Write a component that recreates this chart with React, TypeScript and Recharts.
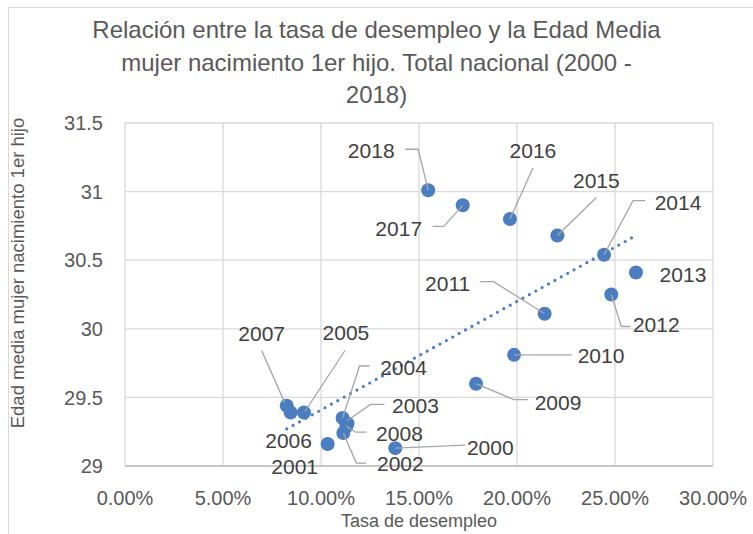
import React from 'react';
import {
  ScatterChart,
  Scatter,
  XAxis,
  YAxis,
  CartesianGrid,
  ReferenceLine,
} from 'recharts';

// Tasa de desempleo vs. edad media de la mujer al nacimiento del 1er hijo
const years = [
  2000, 2001, 2002, 2003, 2004, 2005, 2006, 2007, 2008, 2009,
  2010, 2011, 2012, 2013, 2014, 2015, 2016, 2017, 2018,
];
const unemployment = [
  0.1379, 0.1034, 0.1114, 0.1135, 0.111, 0.0913, 0.0845, 0.0825, 0.113, 0.1791,
  0.1985, 0.2141, 0.2481, 0.2607, 0.2444, 0.2206, 0.1964, 0.1723, 0.1547,
];
const ageFirstChild = [
  29.13, 29.16, 29.24, 29.31, 29.35, 29.39, 29.39, 29.44, 29.29, 29.6,
  29.81, 30.11, 30.25, 30.41, 30.54, 30.68, 30.8, 30.9, 31.01,
];

// linear trend, end points
const trendX = [0.0825, 0.2607];
const trendY = [29.27, 30.68];

const xTicks = [0, 0.05, 0.1, 0.15, 0.2, 0.25, 0.3];
const yTicks = [29, 29.5, 30, 30.5, 31, 31.5];

const titleLines = [
  'Relación entre la tasa de desempleo y la Edad Media',
  'mujer nacimiento 1er hijo. Total nacional (2000 -',
  '2018)',
];

const FONT = '"Liberation Sans", Arial, sans-serif';
const BLUE = '#4A7EC0';

// label placement (pixels relative to the point): text centre + leader line
const LABELS: Record<number, { dx: number; dy: number; leader?: number[][] }> = {
  2000: { dx: 95, dy: -1, leader: [[70, -3], [0, 0]] },
  2001: { dx: -33, dy: 22 },
  2002: { dx: 57, dy: 30, leader: [[23, 30], [13, 30], [0, 0]] },
  2003: { dx: 68, dy: -18, leader: [[37, -19], [23, -19], [0, -3]] },
  2004: { dx: 61, dy: -50, leader: [[27, -52], [17, -52], [0, 0]] },
  2005: { dx: 42, dy: -80, leader: [[41, -62], [1, -1]] },
  2006: { dx: -2, dy: 28 },
  2007: { dx: -25, dy: -72, leader: [[-25, -55], [-2, -3]] },
  2008: { dx: 53, dy: 7, leader: [[20, 6], [9, 6], [0, 0]] },
  2009: { dx: 82, dy: 19, leader: [[0, 0], [38, 16], [52, 16]] },
  2010: { dx: 87, dy: 1, leader: [[0, 0], [58, 0]] },
  2011: { dx: -97, dy: -30, leader: [[-65, -32], [-51, -32], [0, 0]] },
  2012: { dx: 45, dy: 30, leader: [[19, 32], [10, 32], [0, 0]] },
  2013: { dx: 47, dy: 2 },
  2014: { dx: 74, dy: -52, leader: [[41, -54], [29, -54], [0, 0]] },
  2015: { dx: 39, dy: -55, leader: [[39, -38], [0, 0]] },
  2016: { dx: 23, dy: -69, leader: [[23, -51], [0, 0]] },
  2017: { dx: -64, dy: 23, leader: [[-30, 21], [-19, 21], [0, 0]] },
  2018: { dx: -57, dy: -40, leader: [[-23, -41], [-10, -41], [0, 0]] },
};

const data = years.map((year, i) => ({
  year,
  x: unemployment[i],
  y: ageFirstChild[i],
}));

const Dot = (props: any) => {
  const { cx, cy } = props;
  return <circle cx={cx} cy={cy} r={7} fill={BLUE} />;
};

const YearLabel = (props: any) => {
  const { cx, cy, payload } = props;
  const cfg = LABELS[payload.year];
  if (!cfg) return <g />;
  return (
    <g>
      {cfg.leader && (
        <polyline
          points={cfg.leader.map(([dx, dy]) => `${cx + dx},${cy + dy}`).join(' ')}
          fill="none"
          stroke="#a6a6a6"
          strokeWidth={1.3}
        />
      )}
      <text
        x={cx + cfg.dx}
        y={cy + cfg.dy}
        textAnchor="middle"
        dominantBaseline="central"
        fontFamily={FONT}
        fontSize={21}
        fill="#404040"
      >
        {payload.year}
      </text>
    </g>
  );
};

const pct = (v: number) => `${(v * 100).toFixed(2)}%`;

export default function App() {
  return (
    <div
      style={{
        position: 'absolute',
        left: 0,
        top: 0,
        width: 753,
        height: 534,
        background: '#fff',
        fontFamily: FONT,
      }}
    >
      <div
        style={{
          position: 'absolute',
          left: 8,
          top: 7,
          right: 0,
          bottom: 0,
          borderLeft: '1px solid #d9d9d9',
          borderTop: '1px solid #d9d9d9',
        }}
      />
      {titleLines.map((line, i) => (
        <div
          key={i}
          style={{
            position: 'absolute',
            left: 0,
            width: 753,
            top: 15 + i * 32.5,
            textAlign: 'center',
            fontSize: 24,
            lineHeight: '30px',
            color: '#595959',
            whiteSpace: 'nowrap',
          }}
        >
          {line}
        </div>
      ))}
      <ScatterChart
        width={753}
        height={534}
        margin={{ top: 123, right: 40, bottom: 38, left: 65 }}
        style={{ position: 'absolute', left: 0, top: 0 }}
      >
        <CartesianGrid stroke="#d9d9d9" strokeWidth={1.3} />
        <XAxis
          type="number"
          dataKey="x"
          domain={[0, 0.3]}
          ticks={xTicks}
          tickFormatter={pct}
          tickLine={false}
          tickSize={0}
          tickMargin={25}
          height={30}
          axisLine={{ stroke: '#bfbfbf', strokeWidth: 1.3 }}
          tick={{ fill: '#595959', fontSize: 20, fontFamily: FONT }}
          interval={0}
        />
        <YAxis
          type="number"
          dataKey="y"
          domain={[29, 31.5]}
          ticks={yTicks}
          tickLine={false}
          tickSize={0}
          tickMargin={22}
          width={60}
          axisLine={false}
          tick={{ fill: '#595959', fontSize: 20, fontFamily: FONT }}
          interval={0}
        />
        <ReferenceLine
          segment={[
            { x: trendX[0], y: trendY[0] },
            { x: trendX[1], y: trendY[1] },
          ]}
          stroke={BLUE}
          strokeWidth={3.2}
          strokeDasharray="0 7.3"
          strokeLinecap="round"
        />
        <Scatter data={data} shape={Dot} isAnimationActive={false} />
        <Scatter data={data} shape={YearLabel} isAnimationActive={false} />
      </ScatterChart>
      <div
        style={{
          position: 'absolute',
          left: 125,
          width: 588,
          top: 512,
          textAlign: 'center',
          fontSize: 18,
          lineHeight: '18px',
          color: '#595959',
          whiteSpace: 'nowrap',
        }}
      >
        Tasa de desempleo
      </div>
      <div
        style={{
          position: 'absolute',
          left: 18,
          top: 273,
          transform: 'translate(-50%, -50%) rotate(-90deg)',
          fontSize: 18.5,
          lineHeight: '20px',
          color: '#595959',
          whiteSpace: 'nowrap',
        }}
      >
        Edad media mujer nacimiento 1er hijo
      </div>
    </div>
  );
}
